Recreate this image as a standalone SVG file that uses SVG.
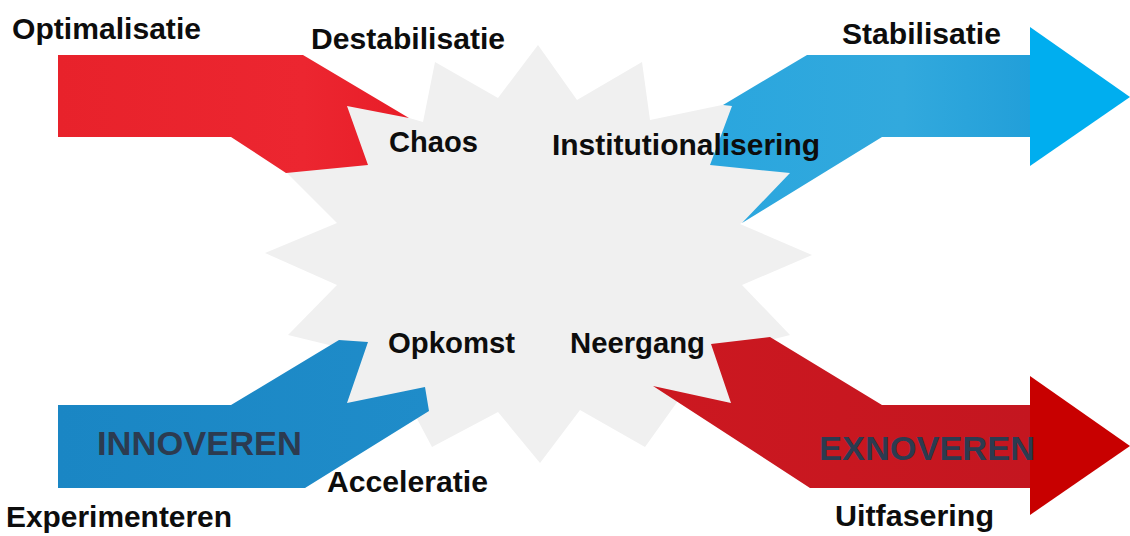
<svg xmlns="http://www.w3.org/2000/svg" width="1130" height="536" viewBox="0 0 1130 536">
  <defs>
    <linearGradient id="gRedTop" x1="0" y1="0" x2="1" y2="0">
      <stop offset="0" stop-color="#e8222b"/>
      <stop offset="0.7" stop-color="#ec2630"/>
      <stop offset="1" stop-color="#e81d28"/>
    </linearGradient>
    <linearGradient id="gBlueTop" x1="0" y1="0" x2="1" y2="0">
      <stop offset="0" stop-color="#2aa6de"/>
      <stop offset="0.6" stop-color="#32a9dd"/>
      <stop offset="1" stop-color="#229fd9"/>
    </linearGradient>
    <linearGradient id="gBlueBot" x1="0" y1="0" x2="1" y2="0">
      <stop offset="0" stop-color="#1a86c4"/>
      <stop offset="1" stop-color="#1f8cc9"/>
    </linearGradient>
    <linearGradient id="gRedBot" x1="0" y1="0" x2="1" y2="0">
      <stop offset="0" stop-color="#cc1820"/>
      <stop offset="1" stop-color="#c41620"/>
    </linearGradient>
    <style>
      .lbl { font-family: "Liberation Sans", Arial, sans-serif; font-weight: bold; font-size: 30px; fill: #0d0d0d; }
      .big { font-family: "Liberation Sans", Arial, sans-serif; font-weight: bold; font-size: 34px; fill: #2c3b50; }
      .star { fill: #f0f0f0; }
    </style>
  </defs>
  <rect width="1130" height="536" fill="#ffffff"/>

  <g id="star">
    <polygon class="star" points="538,45 577,100 642,62 650,120 770,95 830,165 740,224 812,255 742,285 790,335 730,350 760,425 680,398 645,447 580,410 540,463 498,412 432,447 415,415 330,430 358,352 288,335 337,285 265,253 337,223 270,156 340,150 330,95 423,122 435,62 498,98"/>
  </g>

  <g id="connectors">
    <g id="arrow-optimalisatie">
      <polygon fill="url(#gRedTop)" points="58,55 303,55 409,118 347,106 368,165 286,173 231,137 58,137"/>
    </g>
    <g id="arrow-stabilisatie">
      <polygon fill="url(#gBlueTop)" points="807,55 1031,55 1031,137 882,137 742,223 790,173 710,165 732,106 723,105"/>
      <polygon fill="#00aeef" points="1030,27 1130,97 1030,166"/>
    </g>
    <g id="arrow-innoveren">
      <polygon fill="url(#gBlueBot)" points="58,405 231,405 339,340 368,342 347,403 425,387 429,411 305,488 58,488"/>
    </g>
    <g id="arrow-exnoveren">
      <polygon fill="url(#gRedBot)" points="711,344 770,337 882,405 1031,405 1031,488 810,488 653,386 731,403"/>
      <polygon fill="#c80000" points="1030,376 1130,446 1030,515"/>
    </g>
  </g>

  <g id="label-optimalisatie"><text class="lbl" x="12" y="39" textLength="189" lengthAdjust="spacingAndGlyphs">Optimalisatie</text></g>
  <g id="label-destabilisatie"><text class="lbl" x="311" y="49" textLength="194" lengthAdjust="spacingAndGlyphs">Destabilisatie</text></g>
  <g id="label-stabilisatie"><text class="lbl" x="842" y="44" textLength="159" lengthAdjust="spacingAndGlyphs">Stabilisatie</text></g>
  <g id="label-chaos"><text class="lbl" x="389" y="152" textLength="89" lengthAdjust="spacingAndGlyphs">Chaos</text></g>
  <g id="label-institutionalisering"><text class="lbl" x="552" y="155" textLength="268" lengthAdjust="spacingAndGlyphs">Institutionalisering</text></g>
  <g id="label-opkomst"><text class="lbl" x="388" y="353" textLength="127" lengthAdjust="spacingAndGlyphs">Opkomst</text></g>
  <g id="label-neergang"><text class="lbl" x="570" y="353" textLength="135" lengthAdjust="spacingAndGlyphs">Neergang</text></g>
  <g id="label-innoveren"><text class="big" x="97" y="455" textLength="205" lengthAdjust="spacingAndGlyphs">INNOVEREN</text></g>
  <g id="label-exnoveren"><text class="big" x="819" y="460" textLength="216" lengthAdjust="spacingAndGlyphs">EXNOVEREN</text></g>
  <g id="label-acceleratie"><text class="lbl" x="327" y="492" textLength="161" lengthAdjust="spacingAndGlyphs">Acceleratie</text></g>
  <g id="label-experimenteren"><text class="lbl" x="6" y="527" textLength="226" lengthAdjust="spacingAndGlyphs">Experimenteren</text></g>
  <g id="label-uitfasering"><text class="lbl" x="835" y="526" textLength="159" lengthAdjust="spacingAndGlyphs">Uitfasering</text></g>
</svg>
